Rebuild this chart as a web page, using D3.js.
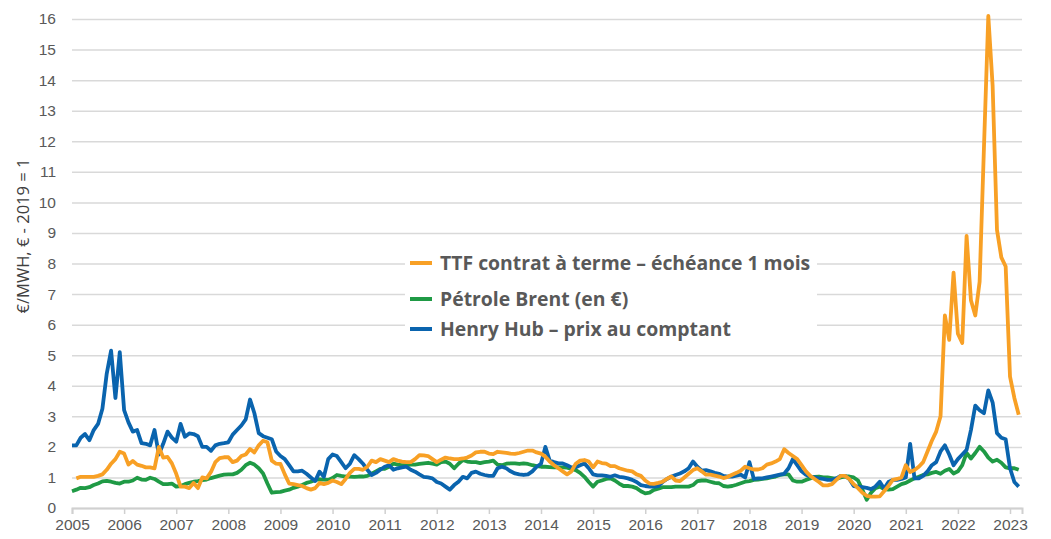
<!DOCTYPE html>
<html>
<head>
<meta charset="utf-8">
<script src="https://cdn.jsdelivr.net/npm/d3@7"></script>
<style>
	body { margin: 0; background: #fff; }
	svg { display: block; font-family: 'Open Sans', sans-serif; }
</style>
</head>
<body>
<svg id="chart" width="1051" height="539"></svg>
<script>
'use strict'

// monthly values, Jan 2005 -> Mar 2023 (index 2005, € - 2019 = 1)
const startYear = 2005
const yearTicks = d3.range(2005, 2024)
const yTicks = d3.range(0, 17)

const seriesNames = ['TTF contrat à terme – échéance 1 mois', 'Pétrole Brent (en €)', 'Henry Hub – prix au comptant']
const seriesColors = ['#f8a025', '#1f9a45', '#0a64ae']

const ttf = [
	null, 0.97, 1.02, 1.02, 1.02, 1.02, 1.05, 1.1, 1.25, 1.45, 1.6, 1.84,
	1.78, 1.42, 1.54, 1.42, 1.38, 1.33, 1.33, 1.3, 2.0, 1.65, 1.67, 1.46,
	1.12, 0.7, 0.7, 0.65, 0.82, 0.65, 1.0, 0.97, 1.18, 1.5, 1.63, 1.66,
	1.66, 1.5, 1.55, 1.7, 1.75, 1.93, 1.82, 2.05, 2.2, 2.15, 1.55, 1.45,
	1.44, 1.1, 0.8, 0.78, 0.75, 0.72, 0.65, 0.6, 0.65, 0.82, 0.78, 0.82,
	0.9, 0.85, 0.78, 0.95, 1.15, 1.28, 1.28, 1.25, 1.35, 1.55, 1.5, 1.6,
	1.55, 1.5, 1.6, 1.55, 1.52, 1.5, 1.5, 1.6, 1.73, 1.72, 1.7, 1.6,
	1.5, 1.58, 1.65, 1.62, 1.6, 1.6, 1.62, 1.65, 1.72, 1.82, 1.84, 1.84,
	1.78, 1.76, 1.84, 1.82, 1.8, 1.78, 1.77, 1.8, 1.84, 1.88, 1.88, 1.82,
	1.78, 1.68, 1.52, 1.4, 1.3, 1.2, 1.1, 1.2, 1.45, 1.55, 1.57, 1.52,
	1.33, 1.52, 1.47, 1.45, 1.37, 1.37, 1.3, 1.26, 1.22, 1.2, 1.1, 1.05,
	0.9, 0.8, 0.79, 0.82, 0.86, 0.95, 1.03, 0.9, 0.88, 1.0, 1.12, 1.24,
	1.3, 1.2, 1.09, 1.09, 1.06, 1.03, 0.98, 1.02, 1.09, 1.15, 1.22, 1.35,
	1.3, 1.26, 1.26, 1.3, 1.42, 1.46, 1.52, 1.6, 1.92, 1.8, 1.7, 1.6,
	1.4, 1.2, 1.05, 0.95, 0.85, 0.74, 0.74, 0.78, 0.92, 1.05, 1.05, 0.95,
	0.78, 0.65, 0.5, 0.4, 0.37, 0.37, 0.38, 0.55, 0.72, 0.92, 0.95, 1.0,
	1.4, 1.18, 1.24, 1.35, 1.5, 1.85, 2.2, 2.5, 3.0, 6.3, 5.5, 7.7,
	5.7, 5.4, 8.9, 6.8, 6.3, 7.4, 11.8, 16.1, 13.8, 9.1, 8.2, 7.9,
	4.3, 3.6, 3.05
]

const brent = [
	0.55, 0.6, 0.66, 0.65, 0.68, 0.75, 0.8, 0.87, 0.89, 0.86, 0.82, 0.8,
	0.86, 0.86, 0.9, 0.99, 0.93, 0.92, 0.99, 0.95, 0.86, 0.78, 0.78, 0.8,
	0.7, 0.72, 0.78, 0.82, 0.86, 0.88, 0.91, 0.93, 0.98, 1.02, 1.06, 1.09,
	1.1, 1.1, 1.15, 1.25, 1.4, 1.48, 1.42, 1.3, 1.13, 0.8, 0.5, 0.52,
	0.53, 0.57, 0.6, 0.66, 0.7, 0.75, 0.82, 0.86, 0.92, 0.94, 0.93, 0.92,
	0.98, 1.08, 1.05, 1.03, 1.03, 1.02, 1.03, 1.03, 1.05, 1.12, 1.2, 1.28,
	1.28, 1.35, 1.45, 1.42, 1.4, 1.4, 1.42, 1.42, 1.44, 1.46, 1.48, 1.45,
	1.42, 1.5, 1.52, 1.45, 1.3, 1.45, 1.57, 1.52, 1.5, 1.5, 1.47, 1.5,
	1.52, 1.55, 1.42, 1.4, 1.45, 1.46, 1.46, 1.44, 1.46, 1.44, 1.4, 1.37,
	1.35, 1.35, 1.34, 1.33, 1.33, 1.33, 1.32, 1.28, 1.24, 1.15, 1.02, 0.85,
	0.7, 0.86, 0.9, 0.95, 0.97, 0.9, 0.8, 0.72, 0.72, 0.7, 0.65, 0.55,
	0.48, 0.5, 0.59, 0.63, 0.68, 0.68, 0.68, 0.7, 0.7, 0.7, 0.7, 0.75,
	0.88, 0.9, 0.9, 0.86, 0.82, 0.81, 0.72, 0.7, 0.72, 0.76, 0.81, 0.86,
	0.88, 0.92, 0.93, 0.95, 0.97, 1.0, 1.03, 1.08, 1.1, 1.1, 0.9, 0.86,
	0.86, 0.92, 0.97, 1.02, 1.03, 1.0, 1.0, 0.98, 0.95, 1.0, 1.03, 1.03,
	1.0, 0.9, 0.6, 0.27, 0.5, 0.65, 0.7, 0.62, 0.6, 0.62, 0.7, 0.78,
	0.82, 0.9, 0.97, 1.02, 1.08, 1.1, 1.15, 1.18, 1.12, 1.22, 1.28, 1.13,
	1.2, 1.4, 1.8, 1.62, 1.8, 2.0, 1.85, 1.65, 1.52, 1.58, 1.48, 1.33,
	1.3, 1.3, 1.25
]

const henryHub = [
	2.05, 2.05, 2.3, 2.42, 2.22, 2.55, 2.75, 3.25, 4.4, 5.15, 3.6, 5.1,
	3.2, 2.8, 2.5, 2.55, 2.12, 2.1, 2.05, 2.55, 1.75, 2.1, 2.5, 2.3,
	2.17, 2.75, 2.33, 2.44, 2.42, 2.35, 2.0, 2.0, 1.87, 2.05, 2.1, 2.12,
	2.15, 2.4, 2.55, 2.7, 2.9, 3.55, 3.1, 2.45, 2.35, 2.3, 2.25, 1.85,
	1.7, 1.6, 1.4, 1.2, 1.2, 1.22, 1.12, 1.0, 0.88, 1.19, 1.02, 1.6,
	1.75, 1.7, 1.5, 1.3, 1.45, 1.73, 1.6, 1.45, 1.25, 1.08, 1.15, 1.25,
	1.35, 1.4, 1.25, 1.3, 1.33, 1.35, 1.25, 1.19, 1.1, 1.02, 1.0, 0.97,
	0.85, 0.8, 0.7, 0.6, 0.75, 0.86, 1.02, 0.97, 1.15, 1.19, 1.12, 1.08,
	1.05, 1.05, 1.3, 1.35, 1.3, 1.2, 1.13, 1.1, 1.08, 1.1, 1.2, 1.35,
	1.45, 2.0, 1.55, 1.5, 1.46, 1.46, 1.4, 1.33, 1.33, 1.4, 1.46, 1.3,
	1.1, 1.07, 1.07, 1.05, 1.02, 1.07, 1.02, 1.0, 0.97, 0.92, 0.85, 0.75,
	0.72, 0.7, 0.7, 0.72, 0.85, 0.95, 1.02, 1.08, 1.13, 1.2, 1.3, 1.52,
	1.35, 1.22, 1.24, 1.2, 1.15, 1.12, 1.05, 1.03, 1.03, 1.06, 1.09, 1.0,
	1.5, 0.95, 0.97, 0.97, 1.0, 1.03, 1.06, 1.09, 1.12, 1.3, 1.6, 1.4,
	1.2, 1.09, 1.03, 1.0, 0.97, 0.95, 0.92, 0.92, 0.97, 1.05, 1.05, 0.95,
	0.72, 0.7, 0.68, 0.66, 0.62, 0.7, 0.86, 0.64, 0.85, 0.92, 0.92, 0.95,
	1.0, 2.1, 0.97, 0.97, 1.05, 1.2, 1.4, 1.5, 1.85, 2.05, 1.75, 1.4,
	1.6, 1.75, 1.9, 2.55, 3.35, 3.2, 3.1, 3.85, 3.45, 2.45, 2.3, 2.25,
	1.3, 0.85, 0.7
]

const svg = d3.select('#chart')

const x = d3.scaleLinear().domain([2005, 2023.23]).range([72, 1022])
const y = d3.scaleLinear().domain([0, 16]).range([508, 19])

// grid + y labels
let yAxis = svg.append('g')
	.attr('transform', 'translate(72,0)')
	.call(d3.axisLeft(y).tickValues(yTicks).tickSize(-950).tickPadding(16).tickFormat(d3.format('d')))
yAxis.select('.domain').remove()
yAxis.selectAll('.tick line').attr('stroke', '#d9d9d9').attr('stroke-width', 1.5)
yAxis.selectAll('.tick text').attr('fill', '#595959').style('font-size', '15.5px')

// x axis
let xAxis = svg.append('g')
	.attr('transform', 'translate(0,508)')
	.call(d3.axisBottom(x).tickValues(yearTicks).tickSize(6).tickPadding(5).tickFormat(d3.format('d')))
xAxis.select('.domain').attr('stroke', '#d0d0d0').attr('stroke-width', 2)
xAxis.selectAll('.tick line').attr('stroke', '#d0d0d0').attr('stroke-width', 1.5)
xAxis.selectAll('.tick text').attr('fill', '#595959').style('font-size', '15.5px')

svg.append('text')
	.attr('transform', 'translate(29,236) rotate(-90)')
	.attr('text-anchor', 'middle')
	.attr('fill', '#404040')
	.style('font-size', '16.5px')
	.text('€/MWH, € - 2019 = 1')

function monthX(i){
	return x(startYear + i / 12)
}

let line = d3.line()
	.defined(function(d){ return d != null })
	.x(function(d, i){ return monthX(i) })
	.y(function(d){ return y(d) })

let allSeries = [ttf, brent, henryHub]
// green first, then blue, orange on top
let drawOrder = [1, 2, 0]
drawOrder.forEach(function(k){
	svg.append('path')
		.datum(allSeries[k])
		.attr('fill', 'none')
		.attr('stroke', seriesColors[k])
		.attr('stroke-width', 3.8)
		.attr('stroke-linejoin', 'round')
		.attr('d', line)
})

// legend
let legend = svg.append('g')
legend.append('rect')
	.attr('x', 405).attr('y', 243).attr('width', 412).attr('height', 100)
	.attr('fill', '#fff')

let rowY = [263, 299, 329]
seriesNames.forEach(function(name, k){
	legend.append('line')
		.attr('x1', 410).attr('x2', 432)
		.attr('y1', rowY[k]).attr('y2', rowY[k])
		.attr('stroke', seriesColors[k]).attr('stroke-width', 4)
	legend.append('text')
		.attr('x', 440).attr('y', rowY[k])
		.attr('dy', '0.35em')
		.attr('fill', '#595959')
		.style('font-weight', 'bold')
		.style('font-size', '19.4px')
		.text(name)
})
</script>
</body>
</html>
